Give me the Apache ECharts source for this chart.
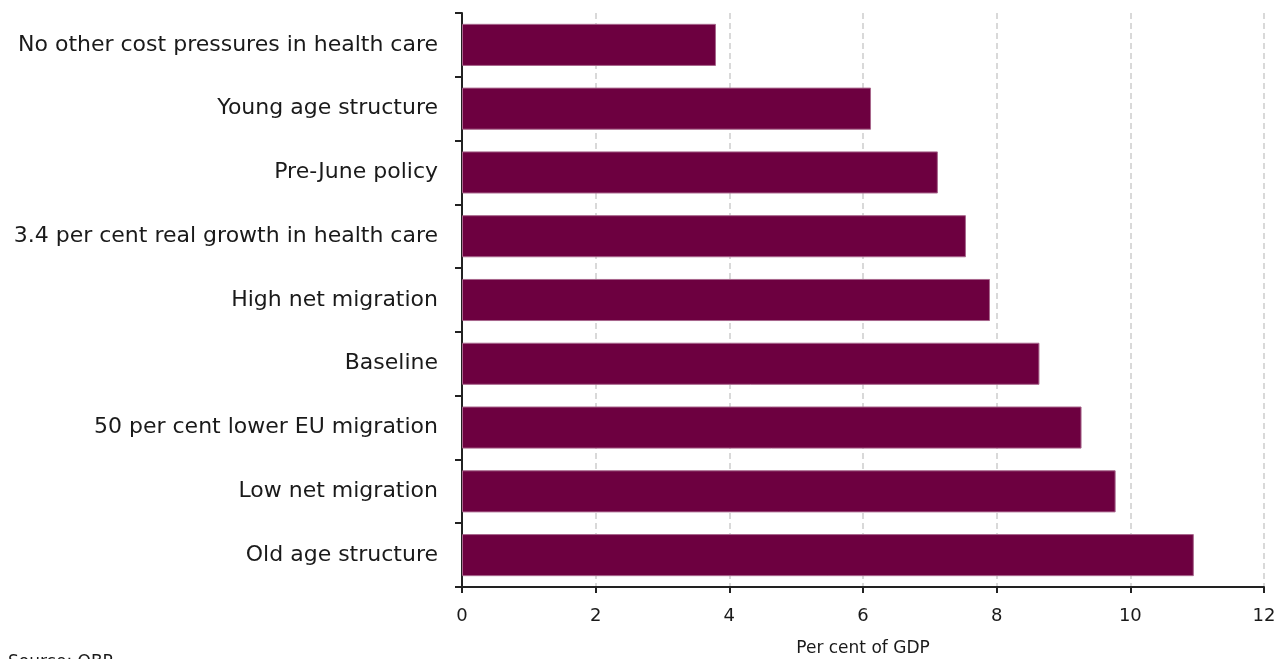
<!DOCTYPE html>
<html><head><meta charset="utf-8">
<script src="https://cdn.jsdelivr.net/npm/echarts@6/dist/echarts.min.js"></script>
<style>html,body{margin:0;padding:0;background:#fff}#c{width:1279px;height:659px}</style>
</head><body><div id="c"></div>
<script>
const categories = ["No other cost pressures in health care","Young age structure","Pre-June policy","3.4 per cent real growth in health care","High net migration","Baseline","50 per cent lower EU migration","Low net migration","Old age structure"];
const values = [3.80, 6.12, 7.12, 7.54, 7.90, 8.64, 9.27, 9.78, 10.95];
const xTicks = [0, 2, 4, 6, 8, 10, 12];
const FONT = "'DejaVu Sans', 'Noto Sans', sans-serif";
const chart = echarts.init(document.getElementById('c'));
chart.setOption({
  animation: false,
  grid: {left: 462, right: 15, top: 13, bottom: 72, containLabel: false, outerBoundsMode: 'none'},
  xAxis: {
    type: 'value', min: xTicks[0], max: xTicks[xTicks.length-1], interval: 2,
    name: 'Per cent of GDP', nameLocation: 'middle', nameGap: 53,
    nameTextStyle: {fontSize: 17, color: '#1a1a1a', fontFamily: FONT},
    axisLine: {show: true, lineStyle: {color: '#222', width: 2}},
    axisTick: {show: true, length: 6, lineStyle: {color: '#222', width: 2}},
    axisLabel: {fontSize: 18, color: '#1a1a1a', margin: 20, fontFamily: FONT},
    splitLine: {show: true, lineStyle: {color: '#d9d9d9', type: [6, 4], width: 2}}
  },
  yAxis: {
    type: 'category', data: categories, inverse: true,
    axisLine: {show: true, lineStyle: {color: '#222', width: 2}},
    axisTick: {show: true, length: 7, lineStyle: {color: '#222', width: 2}},
    axisLabel: {fontSize: 22, color: '#1a1a1a', margin: 24, fontFamily: FONT},
    splitLine: {show: false}
  },
  series: [{
    type: 'bar', data: values, barWidth: '66%',
    itemStyle: {color: '#6d0040', borderColor: '#a8668c', borderWidth: 1}
  }],
  graphic: [{
    type: 'text', left: 8, top: 654,
    style: {text: 'Source: OBR', fontSize: 17, fill: '#1a1a1a', fontFamily: FONT}
  }]
});
</script></body></html>
